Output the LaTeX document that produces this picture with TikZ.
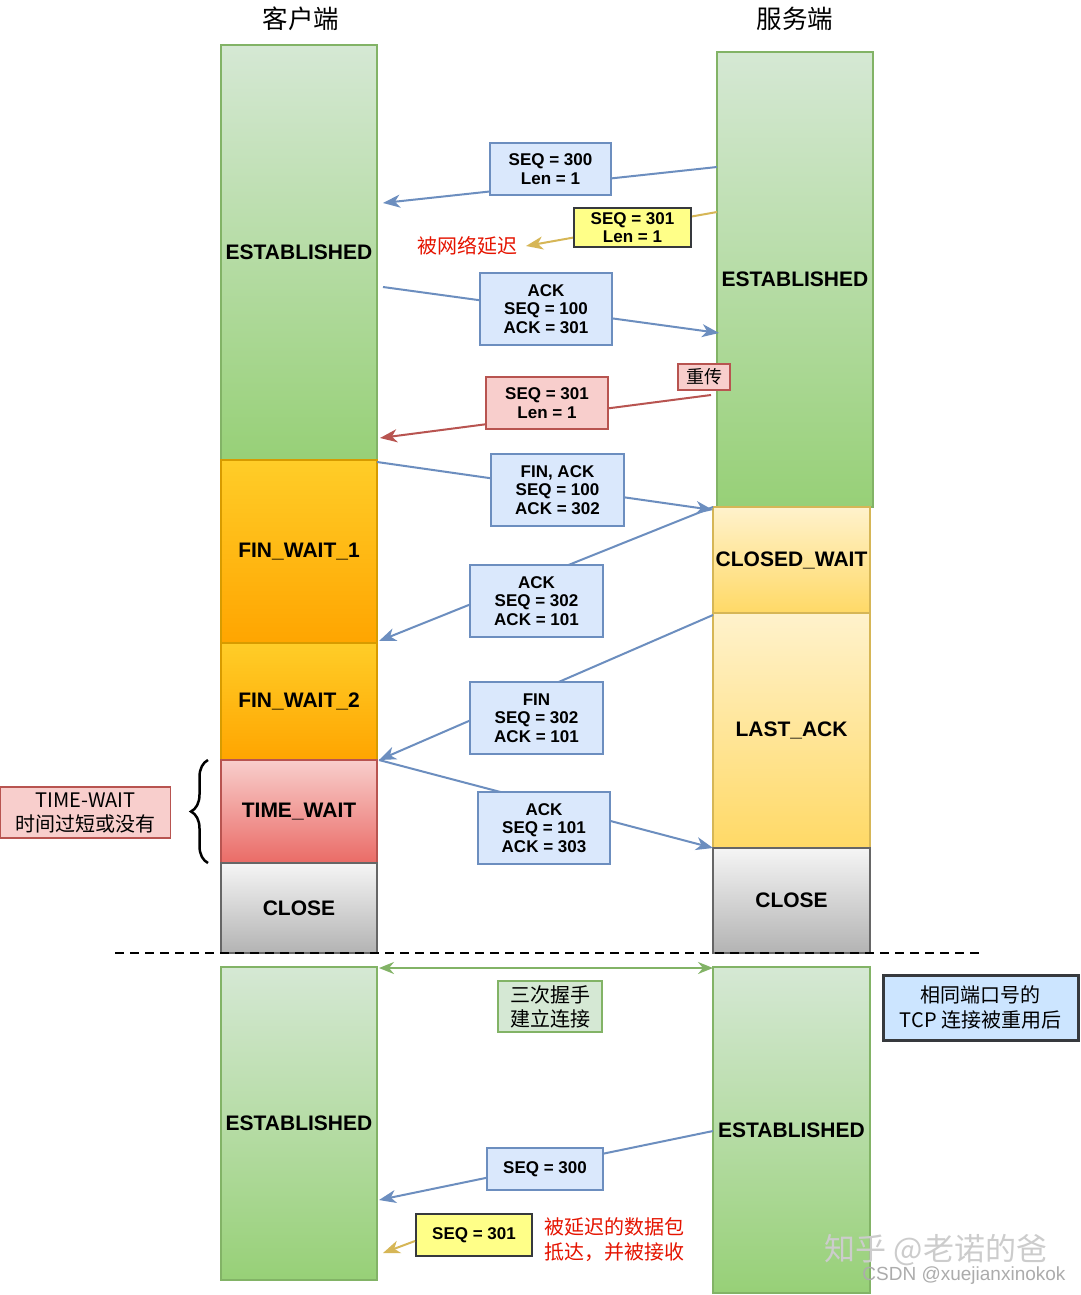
\documentclass[tikz,border=0pt]{standalone}
\usepackage{fontspec}
\setmainfont{Liberation Sans}
\newfontfamily\cjk{Noto Sans CJK SC}
\usetikzlibrary{arrows.meta,decorations.pathreplacing,calc}
\definecolor{gT}{HTML}{D5E8D4}\definecolor{gB}{HTML}{97D077}\definecolor{gD}{HTML}{82B366}
\definecolor{oT}{HTML}{FFCD28}\definecolor{oB}{HTML}{FFA500}\definecolor{oD}{HTML}{D79B00}
\definecolor{rT}{HTML}{F8CECC}\definecolor{rB}{HTML}{EA6B66}\definecolor{rD}{HTML}{B85450}
\definecolor{kT}{HTML}{F5F5F5}\definecolor{kB}{HTML}{B3B3B3}\definecolor{kD}{HTML}{666666}
\definecolor{yT}{HTML}{FFF2CC}\definecolor{yB}{HTML}{FFD966}\definecolor{yD}{HTML}{D6B656}
\definecolor{bF}{HTML}{DAE8FC}\definecolor{bD}{HTML}{6C8EBF}
\definecolor{yelF}{HTML}{FFFF88}\definecolor{darkD}{HTML}{36393D}
\definecolor{lblue}{HTML}{CCE5FF}\definecolor{redtxt}{HTML}{E51400}
\begin{document}
\begin{tikzpicture}[x=1pt,y=-1pt,
  col/.style={draw, line width=2pt, inner sep=0pt, font=\bfseries\fontsize{21}{24}\selectfont},
  gcol/.style={col, draw=gD, top color=gT, bottom color=gB},
  ocol/.style={col, draw=oD, top color=oT, bottom color=oB},
  rcol/.style={col, draw=rD, top color=rT, bottom color=rB},
  kcol/.style={col, draw=kD, top color=kT, bottom color=kB},
  ycol/.style={col, draw=yD, top color=yT, bottom color=yB},
  msg/.style={draw=bD, fill=bF, line width=2pt, inner sep=0pt, align=center, font=\bfseries\fontsize{17}{18.5}\selectfont},
  ymsg/.style={msg, draw=darkD, fill=yelF},
  rmsg/.style={msg, draw=rD, fill=rT},
  tip/.style={-{Stealth[length=17pt,width=13pt,inset=5pt]}},
  barrow/.style={tip, draw=bD, line width=2pt},
  yarrow/.style={tip, draw=yD, line width=2pt},
  rarrow/.style={tip, draw=rD, line width=2pt},
  cjklbl/.style={font=\cjk\fontsize{20}{25}\selectfont, align=center, inner sep=0pt}
]
\useasboundingbox (0,0) rectangle (1080,1295);
\fill[white] (0,0) rectangle (1080,1295);

% headers
\node[font=\cjk\fontsize{25.5}{28}\selectfont] (hc) at (301,19) {客户端};
\node[font=\cjk\fontsize{25.5}{28}\selectfont] (hs) at (795,19) {服务端};

% client columns
\node[gcol, minimum width=156pt, minimum height=415pt] (cE) at (299,252.5) {ESTABLISHED};
\node[ocol, minimum width=156pt, minimum height=183pt] (cF1) at (299,551.5) {FIN\_WAIT\_1};
\node[ocol, minimum width=156pt, minimum height=117pt] (cF2) at (299,701.5) {FIN\_WAIT\_2};
\node[rcol, minimum width=156pt, minimum height=103pt] (cTW) at (299,811.5) {TIME\_WAIT};
\node[kcol, minimum width=156pt, minimum height=90pt] (cCL) at (299,908) {CLOSE};

% server columns
\node[gcol, minimum width=156pt, minimum height=455pt] (sE) at (795,279.5) {ESTABLISHED};
\node[ycol, minimum width=157pt, minimum height=106pt] (sCW) at (791.5,560) {CLOSED\_WAIT};
\node[ycol, minimum width=157pt, minimum height=235pt] (sLA) at (791.5,730.5) {LAST\_ACK};
\node[kcol, minimum width=157pt, minimum height=105pt] (sCL) at (791.5,900.5) {CLOSE};

% bottom columns
\node[gcol, minimum width=156pt, minimum height=313pt] (bC) at (299,1123.5) {ESTABLISHED};
\node[gcol, minimum width=157pt, minimum height=326pt] (bS) at (791.5,1130) {ESTABLISHED};

% connector endpoints
\coordinate (a1s) at (717,167);  \coordinate (a1e) at (383,203);
\coordinate (a2s) at (717,212);  \coordinate (a2e) at (526,246);
\coordinate (a3s) at (383,287);  \coordinate (a3e) at (719,333);
\coordinate (a4s) at (711,395);  \coordinate (a4e) at (380,438);
\coordinate (a5s) at (377,462);  \coordinate (a5e) at (713,510);
\coordinate (a6s) at (713,507);  \coordinate (a6e) at (379,641);
\coordinate (a7s) at (713,615);  \coordinate (a7e) at (379,760);
\coordinate (a8s) at (379,760);  \coordinate (a8e) at (713,848);
\coordinate (a9s) at (379,968);  \coordinate (a9e) at (713,968);
\coordinate (a10s) at (713,1131); \coordinate (a10e) at (379,1200);
\coordinate (a11e) at (383,1253);

% arrows (drawn beneath the message boxes)
\draw[barrow] (a1s) -- (a1e);
\draw[yarrow] (a2s) -- (a2e);
\draw[barrow] (a3s) -- (a3e);
\draw[rarrow] (a4s) -- (a4e);
\draw[barrow] (a5s) -- (a5e);
\draw[barrow] (a6s) -- (a6e);
\draw[barrow] (a7s) -- (a7e);
\draw[barrow] (a8s) -- (a8e);
\draw[{Stealth[length=15pt,width=12pt,inset=5pt]}-{Stealth[length=15pt,width=12pt,inset=5pt]}, draw=gD, line width=2pt] (a9s) -- (a9e);
\draw[barrow] (a10s) -- (a10e);

% message boxes
\node[msg, minimum width=121pt, minimum height=52pt] (m1) at (550.5,169) {SEQ = 300\\Len = 1};
\node[ymsg, minimum width=117pt, minimum height=39pt] (m2) at (632.5,227.5) {SEQ = 301\\Len = 1};
\node[msg, minimum width=132pt, minimum height=72pt] (m3) at (546,309) {ACK\\SEQ = 100\\ACK = 301};
\node[rmsg, line width=1.5pt, minimum width=52pt, minimum height=26pt, font=\cjk\fontsize{18}{20}\selectfont] (rt) at (704,377) {重传};
\node[rmsg, minimum width=122pt, minimum height=52pt] (m4) at (547,403) {SEQ = 301\\Len = 1};
\node[msg, minimum width=133pt, minimum height=72pt] (m5) at (557.5,490) {FIN, ACK\\SEQ = 100\\ACK = 302};
\node[msg, minimum width=133pt, minimum height=72pt] (m6) at (536.5,601) {ACK\\SEQ = 302\\ACK = 101};
\node[msg, minimum width=133pt, minimum height=72pt] (m7) at (536.5,718) {FIN\\SEQ = 302\\ACK = 101};
\node[msg, minimum width=132pt, minimum height=72pt] (m8) at (544,828) {ACK\\SEQ = 101\\ACK = 303};
\node[msg, minimum width=116pt, minimum height=42pt] (m9) at (545,1169) {SEQ = 300};
\node[ymsg, minimum width=116pt, minimum height=42pt] (m10) at (474,1235) {SEQ = 301};
\draw[yarrow] (m10.west |- a11e) ++(0,-12) coordinate (a11s) -- (a11e);

% labels
\node[cjklbl, text=redtxt] (delay) at (467,246) {被网络延迟};
\node[cjklbl, draw=rD, fill=rT, line width=1.5pt, minimum width=170pt, minimum height=51pt, font=\fontsize{20}{24}\selectfont\cjk] (tw) at (85.5,812.5) {TIME-WAIT\\时间过短或没有};
\draw[decorate, decoration={brace, amplitude=17pt}, line width=2.5pt] (208,863) -- (208,760);
\node[cjklbl, draw=gD, fill=gT, line width=1.5pt, minimum width=104pt, minimum height=51pt, font=\fontsize{20}{24}\selectfont\cjk] (hs3) at (550,1006.5) {三次握手\\建立连接};
\node[cjklbl, draw=darkD, fill=lblue, line width=3pt, minimum width=195pt, minimum height=65pt] (reuse) at (980.5,1007.5) {相同端口号的\\TCP 连接被重用后};
\node[cjklbl, text=redtxt, align=left, anchor=west] (late) at (544,1239.5) {被延迟的数据包\\抵达，并被接收};

% watermarks
\node[font=\cjk\fontsize{31}{34}\selectfont, text=gray!40] (wm1) at (936,1250) {知乎 @老诺的爸};
\node[font=\fontsize{19}{21}\selectfont, text=gray!65] (wm2) at (964,1276) {CSDN @xuejianxinokok};

% dashed separator
\draw[line width=2pt, dash pattern=on 9pt off 6pt] (115,953) coordinate (dl) -- (980,953) coordinate (dr);
\end{tikzpicture}
\end{document}
